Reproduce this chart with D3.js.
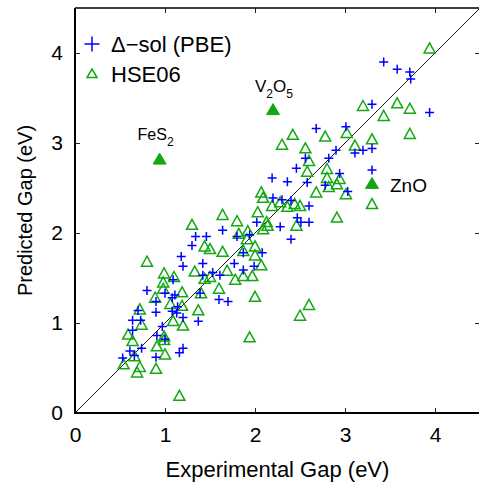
<!DOCTYPE html>
<html>
<head>
<meta charset="utf-8">
<script src="https://cdn.jsdelivr.net/npm/d3@7"></script>
<style>
  body { margin: 0; background: #fff; }
  svg { display: block; font-family: "Liberation Sans", Arial, Helvetica, sans-serif; }
  .axis text { font-size: 21px; fill: #000; }
  .axis line { stroke: #222; stroke-width: 1; }
</style>
</head>
<body>
<div id="chart"></div>
<script>
// Delta-sol (PBE) predictions: [experimental gap, predicted gap] in eV
const deltaSolPoints = [
  [3.43,3.90],[3.58,3.82],[3.72,3.79],[3.73,3.71],[3.30,3.43],[3.94,3.34],[3.01,3.18],[2.68,3.16],
  [3.20,2.92],[3.11,2.89],[3.30,2.94],[2.90,2.92],[2.82,2.83],[2.56,2.83],[2.46,2.72],[3.30,2.70],
  [2.94,2.66],[2.19,2.61],[2.36,2.57],[2.58,2.56],[2.78,2.53],[3.03,2.46],[2.20,2.39],[2.30,2.37],
  [2.40,2.36],[2.60,2.30],[2.47,2.17],[2.51,2.12],[2.60,2.12],[2.02,2.12],[2.28,2.07],[1.64,2.03],
  [1.46,1.96],[2.40,1.93],[1.94,1.98],[1.80,1.96],[1.87,1.78],[2.08,1.78],[1.34,1.96],[1.30,1.86],
  [1.18,1.74],[1.20,1.63],[1.42,1.66],[1.09,1.48],[0.80,1.36],[1.00,1.33],[1.11,1.31],[0.90,1.24],
  [1.08,1.28],[1.14,1.18],[1.42,1.53],[1.53,1.56],[1.39,1.33],[0.70,1.14],[0.64,1.03],[0.73,1.03],
  [0.90,1.12],[1.13,1.11],[1.08,1.13],[1.20,1.06],[1.37,1.02],[0.97,0.96],[1.00,0.82],[0.64,0.92],
  [0.91,0.86],[0.90,0.62],[0.61,0.69],[0.74,0.72],[0.66,0.64],[0.53,0.61],[1.16,0.67],[1.20,0.72],
  [1.60,1.26],[1.70,1.24],[1.99,1.63],[1.77,1.66],[1.87,1.59],[1.61,1.53]
];

// HSE06 predictions: [experimental gap, predicted gap] in eV
const hsePoints = [
  [3.94,4.04],[3.20,3.40],[3.58,3.43],[3.72,3.37],[3.43,3.29],[3.02,3.10],[3.30,3.03],[3.72,3.09],
  [2.42,3.08],[2.78,3.06],[2.30,2.97],[2.56,2.93],[3.11,2.96],[2.60,2.79],[2.58,2.67],[2.80,2.70],
  [2.80,2.60],[2.94,2.59],[2.82,2.50],[2.91,2.53],[2.68,2.44],[3.01,2.42],[3.30,2.31],[2.07,2.44],
  [2.09,2.38],[2.19,2.29],[2.28,2.33],[2.36,2.28],[2.44,2.31],[2.50,2.29],[2.03,2.22],[1.64,2.19],
  [1.80,2.12],[2.91,2.16],[2.46,2.07],[2.13,2.11],[2.14,2.07],[2.09,2.03],[1.92,2.01],[1.82,1.98],
  [1.91,1.92],[2.00,1.84],[1.44,1.84],[1.50,1.81],[1.64,1.78],[1.87,1.79],[2.00,1.74],[1.30,2.08],
  [0.80,1.67],[1.33,1.56],[0.99,1.54],[1.10,1.50],[0.98,1.44],[0.98,1.37],[1.19,1.33],[0.89,1.27],
  [1.06,1.20],[1.19,1.18],[1.44,1.48],[1.50,1.50],[1.40,1.32],[0.72,1.14],[0.74,0.97],[1.09,1.01],
  [1.20,0.96],[1.37,1.13],[0.99,0.84],[0.99,0.80],[0.59,0.86],[0.64,0.79],[0.91,0.73],[1.00,0.64],
  [0.66,0.62],[0.54,0.53],[0.72,0.50],[0.69,0.44],[0.90,0.48],[1.16,0.18],[2.50,1.07],[2.60,1.19],
  [1.94,0.83],[2.00,1.28],[1.60,1.37],[1.78,1.47],[1.97,1.51],[2.07,1.63],[1.87,1.51],[1.69,1.57]
];

// highlighted HSE06 outliers
const labelNames = ["FeS", "V", "ZnO"];
const labelSubs = [["2"], ["2", "O", "5"], []];
const labelX = [0.94, 2.20, 3.30];
const labelY = [2.81, 3.36, 2.54];

const xTicks = [0, 1, 2, 3, 4];
const yTicks = [0, 1, 2, 3, 4];
const legendLabels = ["\u0394\u2212sol (PBE)", "HSE06"];

const blue = "#0000ff";
const green = "#12a812";

class GapPlot {

    constructor(_config) {
        this.config = {
            parentElement: _config.parentElement,
            containerWidth: 479,
            containerHeight: 487,
            margin: {top: 8, right: -1, bottom: 74, left: 75}
        };
        this.initVis();
    }

    initVis() {
        let vis = this;

        vis.width = vis.config.containerWidth - vis.config.margin.left - vis.config.margin.right;
        vis.height = vis.config.containerHeight - vis.config.margin.top - vis.config.margin.bottom;

        vis.xScale = d3.scaleLinear().domain([0, 4.5]).range([0, vis.width]);
        vis.yScale = d3.scaleLinear().domain([0, 4.5]).range([vis.height, 0]);

        vis.svg = d3.select(vis.config.parentElement).append('svg')
            .attr('width', vis.config.containerWidth)
            .attr('height', vis.config.containerHeight);

        vis.chart = vis.svg.append('g')
            .attr('transform', `translate(${vis.config.margin.left},${vis.config.margin.top})`);

        vis.plus = 'M-4.5,0H4.5M0,-4.5V4.5';
        vis.tri = 'M0,-6.5L5.5,3.5L-5.5,3.5Z';

        vis.renderVis();
    }

    renderVis() {
        let vis = this;

        // axes with inward ticks
        const xAxis = d3.axisBottom(vis.xScale).tickValues(xTicks).tickSize(-5).tickPadding(14)
            .tickFormat(d3.format('d'));
        const yAxis = d3.axisLeft(vis.yScale).tickValues(yTicks).tickSize(-5).tickPadding(12)
            .tickFormat(d3.format('d'));
        const xTop = d3.axisTop(vis.xScale).tickValues(xTicks).tickSize(-5).tickFormat('');
        const yRight = d3.axisRight(vis.yScale).tickValues(yTicks).tickSize(-5).tickFormat('');

        vis.chart.append('g').attr('class', 'axis')
            .attr('transform', `translate(0,${vis.height})`)
            .call(xAxis).call(g => g.select('.domain').remove());
        vis.chart.append('g').attr('class', 'axis')
            .call(yAxis).call(g => g.select('.domain').remove());
        vis.chart.append('g').attr('class', 'axis')
            .call(xTop).call(g => g.select('.domain').remove());
        vis.chart.append('g').attr('class', 'axis')
            .attr('transform', `translate(${vis.width},0)`)
            .call(yRight).call(g => g.select('.domain').remove());

        // frame
        vis.chart.append('line').attr('x1', 0).attr('x2', vis.width).attr('y1', 0).attr('y2', 0)
            .attr('stroke', '#000').attr('stroke-width', 1.3);
        vis.chart.append('line').attr('x1', vis.width).attr('x2', vis.width).attr('y1', 0).attr('y2', vis.height)
            .attr('stroke', '#000').attr('stroke-width', 1.3);
        vis.chart.append('line').attr('x1', -1).attr('x2', vis.width).attr('y1', vis.height).attr('y2', vis.height)
            .attr('stroke', '#000').attr('stroke-width', 2);
        vis.chart.append('line').attr('x1', 0).attr('x2', 0).attr('y1', 0).attr('y2', vis.height + 1)
            .attr('stroke', '#000').attr('stroke-width', 2);

        // y = x reference line
        vis.chart.append('line')
            .attr('x1', vis.xScale(0)).attr('y1', vis.yScale(0))
            .attr('x2', vis.xScale(4.5)).attr('y2', vis.yScale(4.5))
            .attr('stroke', '#000').attr('stroke-width', 0.9);

        // HSE06 triangles
        vis.chart.selectAll('.hse')
            .data(hsePoints)
            .join('path')
            .attr('class', 'hse')
            .attr('d', vis.tri)
            .attr('transform', d => `translate(${vis.xScale(d[0])},${vis.yScale(d[1])})`)
            .attr('fill', 'none')
            .attr('stroke', green)
            .attr('stroke-width', 1.5);

        // Delta-sol pluses
        vis.chart.selectAll('.dsol')
            .data(deltaSolPoints)
            .join('path')
            .attr('class', 'dsol')
            .attr('d', vis.plus)
            .attr('transform', d => `translate(${vis.xScale(d[0])},${vis.yScale(d[1])})`)
            .attr('fill', 'none')
            .attr('stroke', blue)
            .attr('stroke-width', 1.5);

        // labelled outliers (filled)
        const labelled = labelNames.map((n, i) => ({name: n, subs: labelSubs[i], x: labelX[i], y: labelY[i]}));
        vis.chart.selectAll('.outlier')
            .data(labelled)
            .join('path')
            .attr('class', 'outlier')
            .attr('d', 'M0,-7L6.5,4L-6.5,4Z')
            .attr('transform', d => `translate(${vis.xScale(d.x)},${vis.yScale(d.y)})`)
            .attr('fill', green)
            .attr('stroke', green)
            .attr('stroke-width', 1);

        // FeS2
        let t = vis.chart.append('text')
            .attr('x', vis.xScale(labelX[0]) - 22).attr('y', vis.yScale(labelY[0]) - 20)
            .attr('font-size', '16px');
        t.append('tspan').text(labelNames[0]);
        t.append('tspan').attr('font-size', '12px').attr('dy', 6).text(labelSubs[0][0]);

        // V2O5
        t = vis.chart.append('text')
            .attr('x', vis.xScale(labelX[1]) - 18).attr('y', vis.yScale(labelY[1]) - 19)
            .attr('font-size', '17px');
        t.append('tspan').text(labelNames[1]);
        t.append('tspan').attr('font-size', '12px').attr('dy', 6).text(labelSubs[1][0]);
        t.append('tspan').attr('dy', -6).text(labelSubs[1][1]);
        t.append('tspan').attr('font-size', '12px').attr('dy', 6).text(labelSubs[1][2]);

        // ZnO
        vis.chart.append('text')
            .attr('x', vis.xScale(labelX[2]) + 18).attr('y', vis.yScale(labelY[2]) + 8)
            .attr('font-size', '19px')
            .text(labelNames[2]);

        // legend
        const legend = vis.chart.append('g').attr('transform', 'translate(17,36)');
        legend.append('path').attr('d', 'M-7.5,0H7.5M0,-7.5V7.5')
            .attr('stroke', blue).attr('stroke-width', 1.5).attr('fill', 'none');
        legend.append('path').attr('d', 'M0,-5L5,3.5L-5,3.5Z').attr('transform', 'translate(0,30)')
            .attr('stroke', green).attr('stroke-width', 1.5).attr('fill', 'none');
        legend.selectAll('.legend-label')
            .data(legendLabels)
            .join('text')
            .attr('class', 'legend-label')
            .attr('x', 19)
            .attr('y', (d, i) => 8 + i * 30)
            .attr('font-size', '22px')
            .text(d => d);

        // axis titles
        vis.chart.append('text')
            .attr('x', vis.width / 2).attr('y', vis.height + 64)
            .attr('text-anchor', 'middle')
            .attr('font-size', '22px')
            .text('Experimental Gap (eV)');

        vis.chart.append('text')
            .attr('transform', `translate(${-43},${vis.height / 2}) rotate(-90)`)
            .attr('text-anchor', 'middle')
            .attr('font-size', '20px')
            .text('Predicted Gap (eV)');
    }
}

new GapPlot({parentElement: '#chart'});
</script>
</body>
</html>
